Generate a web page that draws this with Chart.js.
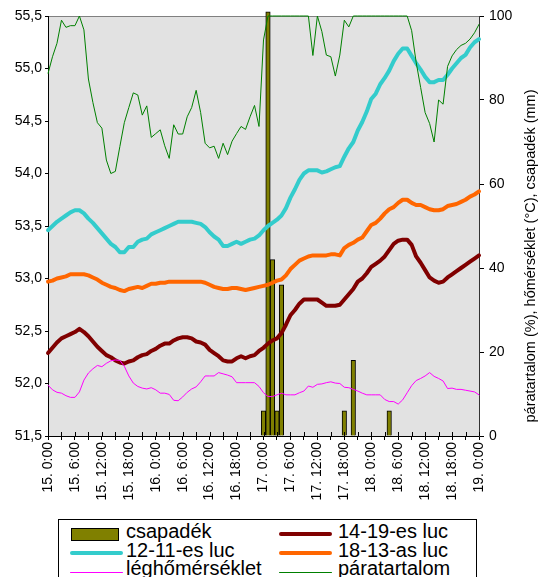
<!DOCTYPE html>
<html>
<head>
<meta charset="utf-8">
<script src="https://cdn.jsdelivr.net/npm/chart.js@4.4.1/dist/chart.umd.min.js"></script>
<style>
  html, body { margin: 0; padding: 0; background: #fff; }
  #wrap { position: relative; width: 551px; height: 577px; overflow: hidden; }
  #legend { position: absolute; left: 58px; top: 519px; width: 417px; height: 80px;
            border: 1px solid #000; background: #fff; }
  #legend .key { position: absolute; }
  #legend .txt { position: absolute; font: 20px "Liberation Sans", Arial, sans-serif;
                 line-height: 20px; white-space: nowrap; color: #000; }
</style>
</head>
<body>
<div id="wrap">
  <canvas id="chart" width="551" height="577"></canvas>
  <div id="legend"></div>
</div>
<script>
// hourly categories, 15. 0:00 .. 19. 0:00
const days = [15, 16, 17, 18];
const hours = [];
days.forEach(d => { for (let h = 0; h < 24; h++) hours.push(d + '. ' + h + ':00'); });
hours.push('19. 0:00');

const leftTicks = [51.5, 52.0, 52.5, 53.0, 53.5, 54.0, 54.5, 55.0, 55.5];
const rightTicks = [0, 20, 40, 60, 80, 100];
const rightTitle = 'páratartalom (%), hőmérséklet (°C), csapadék (mm)';

const csapadek = [
  0, 0, 0, 0, 0, 0, 0, 0, 0, 0, 0, 0,
  0, 0, 0, 0, 0, 0, 0, 0, 0, 0, 0, 0,
  0, 0, 0, 0, 0, 0, 0, 0, 0, 0, 0, 0,
  0, 0, 0, 0, 0, 0, 0, 0, 0, 0, 0, 0,
  6, 101, 42, 6, 36, 0, 0, 0, 0, 0, 0, 0,
  0, 0, 0, 0, 0, 0, 6, 0, 18, 0, 0, 0,
  0, 0, 0, 0, 6, 0, 0, 0, 0, 0, 0, 0,
  0, 0, 0, 0, 0, 0, 0, 0, 0, 0, 0, 0,
  0
];

const luc1419 = [
  52.29, 52.34, 52.39, 52.43, 52.45, 52.47, 52.49, 52.52, 52.49, 52.45, 52.40, 52.35,
  52.31, 52.27, 52.25, 52.22, 52.20, 52.19, 52.21, 52.22, 52.25, 52.27, 52.28, 52.31,
  52.33, 52.36, 52.38, 52.38, 52.41, 52.43, 52.44, 52.44, 52.43, 52.40, 52.39, 52.37,
  52.32, 52.29, 52.26, 52.22, 52.21, 52.21, 52.24, 52.26, 52.24, 52.26, 52.27, 52.31,
  52.34, 52.38, 52.41, 52.43, 52.48, 52.56, 52.65, 52.70, 52.76, 52.80, 52.80, 52.80,
  52.80, 52.77, 52.74, 52.74, 52.74, 52.75, 52.80, 52.85, 52.90, 52.97, 53.00, 53.05,
  53.11, 53.14, 53.17, 53.21, 53.27, 53.33, 53.36, 53.37, 53.37, 53.32, 53.21, 53.15,
  53.08, 53.01, 52.98, 52.96, 52.97, 53.01, 53.04, 53.07, 53.10, 53.13, 53.16, 53.19,
  53.22
];

const luc1211 = [
  53.46, 53.50, 53.54, 53.57, 53.60, 53.63, 53.65, 53.65, 53.62, 53.57, 53.53, 53.48,
  53.43, 53.38, 53.33, 53.30, 53.25, 53.25, 53.30, 53.30, 53.35, 53.37, 53.38, 53.42,
  53.44, 53.46, 53.48, 53.50, 53.52, 53.54, 53.54, 53.54, 53.54, 53.53, 53.52, 53.49,
  53.44, 53.40, 53.37, 53.31, 53.31, 53.33, 53.35, 53.33, 53.35, 53.37, 53.38, 53.41,
  53.46, 53.50, 53.53, 53.56, 53.60, 53.67, 53.77, 53.85, 53.94, 54.00, 54.03, 54.03,
  54.03, 54.01, 54.02, 54.04, 54.06, 54.07, 54.16, 54.24, 54.30, 54.41, 54.49, 54.59,
  54.71, 54.76, 54.85, 54.91, 54.98, 55.07, 55.14, 55.19, 55.19, 55.12, 55.05, 54.99,
  54.92, 54.87, 54.87, 54.89, 54.89, 54.94, 55.00, 55.05, 55.10, 55.13, 55.20, 55.25,
  55.28
];

const luc1813 = [
  52.97, 52.98, 53.00, 53.01, 53.02, 53.04, 53.04, 53.04, 53.04, 53.03, 53.01, 52.99,
  52.96, 52.94, 52.92, 52.91, 52.89, 52.88, 52.90, 52.91, 52.92, 52.91, 52.93, 52.95,
  52.95, 52.96, 52.96, 52.97, 52.97, 52.97, 52.97, 52.97, 52.97, 52.97, 52.97, 52.96,
  52.94, 52.92, 52.91, 52.90, 52.90, 52.91, 52.91, 52.90, 52.89, 52.90, 52.91, 52.92,
  52.93, 52.94, 52.96, 52.98, 52.99, 53.03, 53.09, 53.13, 53.17, 53.19, 53.21, 53.22,
  53.22, 53.22, 53.22, 53.23, 53.23, 53.22, 53.29, 53.32, 53.34, 53.37, 53.39, 53.45,
  53.51, 53.53, 53.57, 53.62, 53.66, 53.68, 53.72, 53.75, 53.75, 53.72, 53.70, 53.70,
  53.68, 53.66, 53.65, 53.65, 53.66, 53.69, 53.70, 53.71, 53.73, 53.75, 53.78, 53.80,
  53.83
];

const leghomerseklet = [
  12.1, 11.0, 10.4, 10.2, 9.6, 9.2, 9.2, 10.5, 13.3, 15.0, 16.0, 16.8,
  16.5, 17.3, 17.9, 18.1, 18.0, 16.6, 14.3, 12.6, 11.8, 11.4, 11.2, 11.5,
  11.0, 10.2, 10.2, 9.9, 8.5, 8.4, 9.3, 10.4, 11.2, 11.7, 12.9, 14.3,
  14.3, 14.3, 15.1, 14.8, 14.5, 14.1, 12.7, 12.7, 12.7, 12.7, 12.7, 11.8,
  10.3, 9.4, 9.4, 9.8, 10.2, 9.8, 9.8, 9.8, 10.3, 10.7, 11.9, 11.6,
  12.3, 12.4, 12.7, 12.9, 12.6, 12.5, 11.6, 11.5, 11.1, 10.7, 10.2, 9.8,
  9.8, 9.8, 9.8, 8.7, 8.2, 8.2, 7.6, 8.6, 10.3, 12.0, 13.2, 13.7,
  14.3, 15.1, 14.2, 13.7, 13.1, 11.3, 11.4, 11.1, 11.1, 10.9, 10.7, 10.5,
  9.8
];

const paratartalom = [
  86.3, 90.3, 93.5, 99.0, 97.3, 97.7, 97.7, 100, 96.7, 85.0, 79.4, 74.6,
  73.3, 65.7, 62.5, 63.0, 68.9, 74.6, 78.2, 81.7, 81.2, 76.4, 78.6, 71.1,
  72.0, 72.9, 69.1, 66.1, 74.1, 71.9, 71.9, 76.0, 78.2, 82.3, 77.0, 69.7,
  68.6, 69.0, 66.1, 69.7, 67.0, 70.2, 72.0, 73.7, 73.0, 76.0, 78.7, 73.7,
  94.3, 100, 100, 100, 100, 100, 100, 100, 100, 100, 100, 90.6,
  100, 96.3, 90.7, 90.3, 85.7, 90.7, 99.0, 97.4, 100, 100, 100, 100,
  100, 100, 100, 100, 100, 100, 100, 100, 100, 96.5, 89.0, 83.0,
  77.0, 74.4, 70.0, 80.0, 79.0, 88.0, 90.5, 92.0, 93.0, 93.5, 94.5, 96.0,
  98.0
];

const FONT = '"Liberation Sans", Arial, sans-serif';

function lineSet(label, data, color, width, axis, order) {
    return {
        type: 'line', label, data, yAxisID: axis, order,
        borderColor: color, backgroundColor: color,
        borderWidth: width, pointRadius: 0, tension: 0,
        borderJoinStyle: 'round', borderCapStyle: 'round', clip: 3
    };
}

const datasets = [
    {
        type: 'bar', label: 'csapadék', data: csapadek.map(v => v || null), yAxisID: 'y2', order: 10,
        backgroundColor: '#808000', borderColor: '#000', borderWidth: 1,
        barPercentage: 1, categoryPercentage: 1, clip: false
    },
    lineSet('14-19-es luc', luc1419, '#800000', 4, 'y', 5),
    lineSet('12-11-es luc', luc1211, '#33CCCC', 4, 'y', 4),
    lineSet('18-13-as luc', luc1813, '#FF6600', 4, 'y', 3),
    lineSet('léghőmérséklet', leghomerseklet, '#FF00FF', 1, 'y2', 2),
    lineSet('páratartalom', paratartalom, '#008000', 1, 'y2', 1)
];

// plot background, frame, inner half of x ticks, right axis title
const plotFrame = {
    id: 'plotFrame',
    beforeDraw(chart) {
        const { ctx, chartArea: a } = chart;
        ctx.save();
        ctx.fillStyle = '#E2E2E2';
        ctx.fillRect(a.left, a.top, a.right - a.left, a.bottom - a.top);
        ctx.strokeStyle = '#808080';
        ctx.lineWidth = 1;
        ctx.beginPath();
        ctx.moveTo(a.left, a.top + 0.5);
        ctx.lineTo(a.right, a.top + 0.5);
        ctx.stroke();
        ctx.restore();
    },
    afterDraw(chart) {
        const { ctx, chartArea: a, scales } = chart;
        ctx.save();
        ctx.strokeStyle = '#000';
        ctx.lineWidth = 1;
        ctx.beginPath();
        for (let i = 0; i < hours.length; i += 3) {
            const px = Math.round(scales.x.getPixelForValue(i)) + 0.5;
            ctx.moveTo(px, a.bottom);
            ctx.lineTo(px, a.bottom - 4);
        }
        ctx.stroke();
        ctx.translate(531, 256);
        ctx.rotate(-Math.PI / 2);
        ctx.font = '14.5px ' + FONT;
        ctx.fillStyle = '#000';
        ctx.textAlign = 'center';
        ctx.textBaseline = 'middle';
        ctx.fillText(rightTitle, 0, 0);
        ctx.restore();
    }
};

const chart = new Chart(document.getElementById('chart'), {
    data: { labels: hours, datasets },
    plugins: [plotFrame],
    options: {
        responsive: false,
        animation: false,
        layout: { padding: { top: 16, left: 0, right: 0, bottom: 0 } },
        plugins: { legend: { display: false }, tooltip: { enabled: false } },
        scales: {
            x: {
                type: 'category', offset: false,
                grid: {
                    offset: false, drawOnChartArea: false, tickLength: 4,
                    tickColor: c => (c.index % 3 === 0 ? '#000' : 'rgba(0,0,0,0)')
                },
                border: { color: '#000' },
                ticks: {
                    autoSkip: false, maxRotation: 90, minRotation: 90, padding: 2,
                    color: '#000', font: { family: FONT, size: 14 },
                    callback: (v, i) => (i % 6 === 0 ? hours[i] : '')
                },
                afterFit: s => { s.height = 141; }
            },
            y: {
                position: 'left', min: 51.5, max: 55.5,
                grid: { drawOnChartArea: false, tickLength: 3, tickColor: '#000' },
                border: { color: '#000' },
                afterBuildTicks: s => { s.ticks = leftTicks.map(v => ({ value: v })); },
                ticks: {
                    padding: 3, color: '#000', font: { family: FONT, size: 14 },
                    callback: v => v.toFixed(1).replace('.', ',')
                },
                afterFit: s => { s.width = 48; }
            },
            y2: {
                position: 'right', min: 0, max: 100,
                grid: { drawOnChartArea: false, tickLength: 5, tickColor: '#000' },
                border: { color: '#333' },
                afterBuildTicks: s => { s.ticks = rightTicks.map(v => ({ value: v })); },
                ticks: { padding: 5, color: '#000', font: { family: FONT, size: 14 } },
                afterFit: s => { s.width = 72; }
            }
        }
    }
});

// legend: two columns, three rows, like the original
const legendSlots = [
    { ds: 0, col: 0, row: 0 }, { ds: 1, col: 1, row: 0 },
    { ds: 2, col: 0, row: 1 }, { ds: 3, col: 1, row: 1 },
    { ds: 4, col: 0, row: 2 }, { ds: 5, col: 1, row: 2 }
];
const colKeyX = [11, 220];
const colTextX = [67, 279];
const keyY = [13.8, 33.2, 52.0];
const textBase = [18.0, 36.6, 54.4];
const legend = document.getElementById('legend');
legendSlots.forEach(s => {
    const d = datasets[s.ds];
    const key = document.createElement('div');
    key.className = 'key';
    if (d.type === 'bar') {
        key.style.cssText = `left:${colKeyX[s.col] + 1}px;top:${keyY[s.row] - 6}px;width:46px;height:11px;` +
            `background:${d.backgroundColor};border:1px solid #000;`;
    } else {
        const w = d.borderWidth;
        key.style.cssText = `left:${colKeyX[s.col]}px;top:${keyY[s.row] - w / 2}px;width:53px;height:${w}px;` +
            `background:${d.borderColor};border-radius:${w / 2}px;`;
    }
    legend.appendChild(key);
    const txt = document.createElement('div');
    txt.className = 'txt';
    txt.textContent = d.label;
    txt.style.left = colTextX[s.col] + 'px';
    txt.style.top = (textBase[s.row] - 16.9) + 'px';
    legend.appendChild(txt);
});
</script>
</body>
</html>
